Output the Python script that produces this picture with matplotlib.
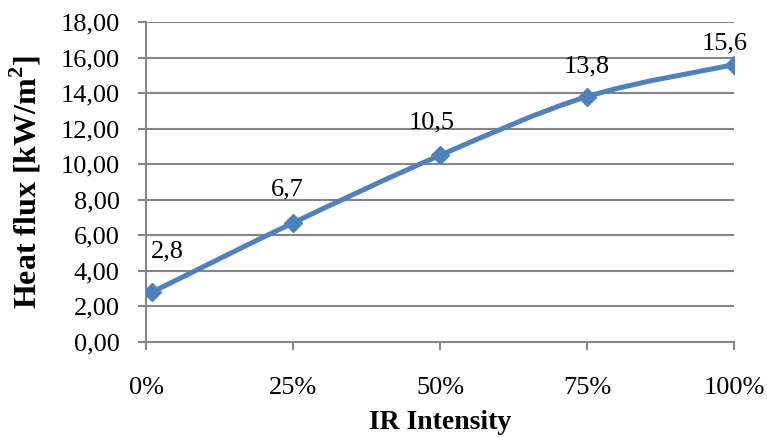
import matplotlib.pyplot as plt
from matplotlib.path import Path
from matplotlib.patches import PathPatch
from matplotlib.ticker import FuncFormatter, MultipleLocator
import numpy as np

plt.rcParams['font.family'] = ['Liberation Serif', 'DejaVu Serif']
plt.rcParams['mathtext.fontset'] = 'custom'
plt.rcParams['mathtext.rm'] = 'Liberation Serif'
plt.rcParams['mathtext.bf'] = 'Liberation Serif:bold'

# data (scatter, x as fraction of IR intensity)
intensity = [0.01, 0.25, 0.50, 0.75, 1.00]
heat_flux = [2.8, 6.7, 10.5, 13.8, 15.6]
labels = ['2,8', '6,7', '10,5', '13,8', '15,6']
# label offsets in points (dx, dy) as excel placed them
label_offsets = [(11, 29), (-4, 24), (-6, 24), (0, 22), (-7, 15)]

blue = '#4F81BD'
grey = '#868686'

fig = plt.figure(figsize=(7.67, 4.37), dpi=100)
ax = fig.add_axes([0.1904, 0.2174, 0.957 - 0.1904, 0.9497 - 0.2174])

# excel-like smoothed line: bezier segments through the points
pts = np.column_stack([intensity, heat_flux])
n = len(pts)
verts = [pts[0]]
codes = [Path.MOVETO]
for i in range(n - 1):
    p0 = pts[max(i - 1, 0)]
    p1 = pts[i]
    p2 = pts[i + 1]
    p3 = pts[min(i + 2, n - 1)]
    c1 = p1 + (p2 - p0) / 6.0
    c2 = p2 - (p3 - p1) / 6.0
    verts += [c1, c2, p2]
    codes += [Path.CURVE4] * 3
ax.add_patch(PathPatch(Path(verts, codes), fill=False, edgecolor=blue,
                       lw=3.6, zorder=3, capstyle='round', joinstyle='round'))
ax.plot(intensity, heat_flux, ls='none', marker='D', ms=9.5,
        color=blue, zorder=4)

for x, y, t, (dx, dy) in zip(intensity, heat_flux, labels, label_offsets):
    ax.annotate(t, (x, y), xytext=(dx, dy), textcoords='offset points',
                ha='center', va='center', fontsize=19, color='black')

ax.set_xlim(0, 1)
ax.set_ylim(0, 18)
ax.xaxis.set_major_locator(MultipleLocator(0.25))
ax.yaxis.set_major_locator(MultipleLocator(2))
ax.xaxis.set_major_formatter(FuncFormatter(lambda v, p: f'{v * 100:.0f}%'))
ax.yaxis.set_major_formatter(FuncFormatter(lambda v, p: f'{v:.2f}'.replace('.', ',')))

ax.grid(axis='y', color=grey, lw=1.5)
ax.set_axisbelow(True)
for s in ['top', 'right']:
    ax.spines[s].set_visible(False)
for s in ['left', 'bottom']:
    ax.spines[s].set_color(grey)
    ax.spines[s].set_linewidth(1.5)

ax.tick_params(axis='both', direction='out', length=6, width=1.5,
               color=grey, labelsize=19)
ax.tick_params(axis='y', pad=13)
ax.tick_params(axis='x', pad=19)

ax.set_xlabel('IR Intensity', fontsize=20, fontweight='bold', labelpad=8)
ax.set_ylabel(r'Heat flux [kW/m$^{\mathbf{2}}$]', fontsize=23,
              fontweight='bold', labelpad=12)

fig.savefig('out.png', dpi=100)
